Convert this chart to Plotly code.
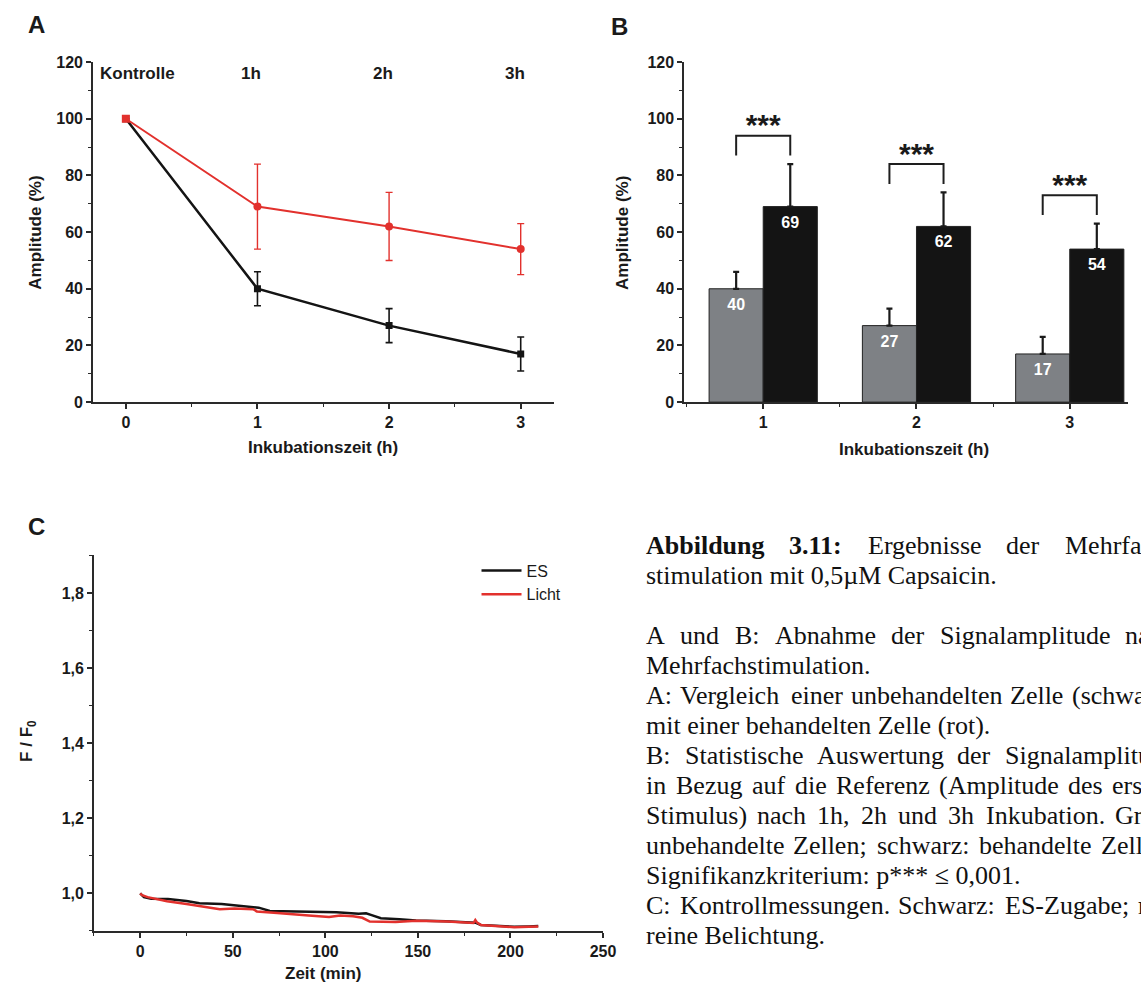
import plotly.graph_objects as go

W, H = 1141, 994

# ---------------- data ----------------
# Panel A: amplitude over incubation time
a_x = [0, 1, 2, 3]
a_untreated = [100, 40, 27, 17]
a_untreated_err = [0, 6, 6, 6]
a_treated = [100, 69, 62, 54]
a_treated_err = [0, 15, 12, 9]
a_top_labels = ["Kontrolle", "1h", "2h", "3h"]

# Panel B: statistics
b_x = [1, 2, 3]
b_untreated = [40, 27, 17]
b_untreated_err = [6, 6, 6]
b_treated = [69, 62, 54]
b_treated_err = [15, 12, 9]
b_sig = ["***", "***", "***"]

# Panel C: control measurements (F/F0 over time)
c_es_t = [0, 2, 6, 15, 25, 32, 44, 55, 61, 64, 70, 85, 96, 106, 118, 122, 125,
          130, 140, 149, 165, 181, 184, 192, 202, 210, 215]
c_es_v = [1.0, 0.99, 0.986, 0.985, 0.98, 0.974, 0.972, 0.966, 0.963, 0.962, 0.953,
          0.952, 0.950, 0.950, 0.946, 0.947, 0.942, 0.934, 0.931, 0.928, 0.926,
          0.922, 0.916, 0.913, 0.911, 0.912, 0.913]
c_licht_t = [0, 1, 4, 10, 14.5, 25, 32, 43, 51, 61, 63, 65, 74, 91, 102, 108, 115,
             120, 124, 138, 149, 166, 180, 181, 182, 184, 202, 210, 215]
c_licht_v = [1.0, 0.995, 0.99, 0.983, 0.979, 0.972, 0.967, 0.958, 0.960, 0.958,
             0.952, 0.951, 0.948, 0.941, 0.937, 0.941, 0.939, 0.935, 0.925, 0.924,
             0.927, 0.925, 0.921, 0.929, 0.922, 0.916, 0.910, 0.911, 0.912]

# caption lines: (text, justified, number of leading bold words)
caption = [
    ("Abbildung 3.11: Ergebnisse der Mehrfach-", True, 2),
    ("stimulation mit 0,5µM Capsaicin.", False, 0),
    ("", False, 0),
    ("A und B: Abnahme der Signalamplitude nach", True, 0),
    ("Mehrfachstimulation.", False, 0),
    ("A: Vergleich einer unbehandelten Zelle (schwarz)", True, 0),
    ("mit einer behandelten Zelle (rot).", False, 0),
    ("B: Statistische Auswertung der Signalamplitude", True, 0),
    ("in Bezug auf die Referenz (Amplitude des ersten", True, 0),
    ("Stimulus) nach 1h, 2h und 3h Inkubation. Grau:", True, 0),
    ("unbehandelte Zellen; schwarz: behandelte Zellen.", True, 0),
    ("Signifikanzkriterium: p*** ≤ 0,001.", False, 0),
    ("C: Kontrollmessungen. Schwarz: ES-Zugabe; rot:", True, 0),
    ("reine Belichtung.", False, 0),
]

# ---------------- helpers ----------------
def px(x):
    return x / W

def py(y):
    return 1 - y / H

RED = "#e2312d"
BLK = "#141414"
AX = "#2a2a2a"
TXT = "#1a1a1a"
SANS = "Liberation Sans"
SERIF = "Liberation Serif"

# Times metrics (units per 1000 em) used for justified caption lines
TR = {' ': 250, '(': 333, ')': 333, '*': 500, ',': 250, '-': 333, '.': 250, ':': 278,
      ';': 278, '0': 500, '1': 500, '2': 500, '3': 500, '5': 500, 'µ': 500, '≤': 549,
      'A': 722, 'B': 667, 'C': 667, 'E': 611, 'G': 722, 'I': 333, 'K': 722, 'M': 889,
      'R': 667, 'S': 556, 'V': 722, 'Z': 611,
      'a': 444, 'b': 500, 'c': 444, 'd': 500, 'e': 444, 'f': 333, 'g': 500, 'h': 500,
      'i': 278, 'k': 500, 'l': 278, 'm': 778, 'n': 500, 'o': 500, 'p': 500, 'r': 333,
      's': 389, 't': 278, 'u': 500, 'w': 722, 'z': 444}
TB = dict(TR)
TB.update({'b': 556, 'd': 556, 'n': 556, 'u': 556, ':': 333})

CAP_SIZE = 26
CAP_LEFT = 652
CAP_RIGHT = 1186
CAP_TOP = 547
CAP_STEP = 30.5

def tw(s, bold=False):
    t = TB if bold else TR
    return sum(t.get(ch, 500) for ch in s) * CAP_SIZE / 1000.0

fig = go.Figure()

# ---------------- Panel A ----------------
fig.add_trace(go.Scatter(
    x=a_x, y=a_untreated, mode="lines+markers", xaxis="x", yaxis="y",
    line=dict(color=BLK, width=2.5),
    marker=dict(symbol="square", size=7, color=BLK),
    error_y=dict(type="data", array=a_untreated_err, color=BLK, thickness=1.6, width=3.5),
    showlegend=False, hoverinfo="skip"))
fig.add_trace(go.Scatter(
    x=a_x, y=a_treated, mode="lines+markers", xaxis="x", yaxis="y",
    line=dict(color=RED, width=2),
    marker=dict(symbol=["square", "circle", "circle", "circle"], size=8, color=RED),
    error_y=dict(type="data", array=a_treated_err, color=RED, thickness=1.4, width=3.5),
    showlegend=False, hoverinfo="skip"))

# ---------------- Panel B ----------------
bw = 0.353
fig.add_trace(go.Bar(
    x=[v - bw / 2 for v in b_x], y=b_untreated, width=bw, xaxis="x2", yaxis="y2",
    marker=dict(color="#7e8185", line=dict(color="#222222", width=1)),
    error_y=dict(type="data", symmetric=False, array=b_untreated_err,
                 arrayminus=[0] * len(b_x), color=TXT, thickness=2.2, width=3),
    showlegend=False, hoverinfo="skip"))
fig.add_trace(go.Bar(
    x=[v + bw / 2 for v in b_x], y=b_treated, width=bw, xaxis="x2", yaxis="y2",
    marker=dict(color=BLK, line=dict(color="#222222", width=1)),
    error_y=dict(type="data", symmetric=False, array=b_treated_err,
                 arrayminus=[0] * len(b_x), color=TXT, thickness=2.2, width=3),
    showlegend=False, hoverinfo="skip"))
# value labels inside bars
fig.add_trace(go.Scatter(
    x=[v - bw / 2 for v in b_x], y=[v - 6 for v in b_untreated],
    text=[str(v) for v in b_untreated], mode="text", xaxis="x2", yaxis="y2",
    textfont=dict(family=SANS, size=16, color="white", weight="bold"),
    showlegend=False, hoverinfo="skip"))
fig.add_trace(go.Scatter(
    x=[v + bw / 2 for v in b_x], y=[v - 6 for v in b_treated],
    text=[str(v) for v in b_treated], mode="text", xaxis="x2", yaxis="y2",
    textfont=dict(family=SANS, size=16, color="white", weight="bold"),
    showlegend=False, hoverinfo="skip"))
# significance brackets
for xi, v, e, s in zip(b_x, b_treated, b_treated_err, b_sig):
    top = v + e + 10
    fig.add_trace(go.Scatter(
        x=[xi - bw / 2, xi - bw / 2, xi + bw / 2, xi + bw / 2],
        y=[top - 7, top, top, top - 7], mode="lines", xaxis="x2", yaxis="y2",
        line=dict(color="#1e1e1e", width=2), showlegend=False, hoverinfo="skip"))
    fig.add_trace(go.Scatter(
        x=[xi], y=[top + 2.8], text=[s], mode="text", xaxis="x2", yaxis="y2",
        textfont=dict(family=SANS, size=30, color=TXT, weight="bold"),
        showlegend=False, hoverinfo="skip"))

# ---------------- Panel C ----------------
fig.add_trace(go.Scatter(
    x=c_es_t, y=c_es_v, mode="lines", name="ES", xaxis="x3", yaxis="y3",
    line=dict(color=BLK, width=2.5), hoverinfo="skip"))
fig.add_trace(go.Scatter(
    x=c_licht_t, y=c_licht_v, mode="lines", name="Licht", xaxis="x3", yaxis="y3",
    line=dict(color=RED, width=2.5), hoverinfo="skip"))

# ---------------- axes ----------------
def axis(domain, rng, dtick, minor_dtick, **kw):
    d = dict(domain=domain, range=rng, dtick=dtick, tick0=0, showline=True,
             linecolor=AX, linewidth=1.5, ticks="outside", ticklen=5, tickwidth=1.5,
             tickcolor=AX, showgrid=False, zeroline=False, fixedrange=True,
             tickfont=dict(family=SANS, size=16, color=TXT, weight="bold"),
             minor=dict(ticks="outside", ticklen=3, tickwidth=1.2, tickcolor=AX,
                        dtick=minor_dtick, showgrid=False))
    d.update(kw)
    return d

yAB = [py(401), py(55)]
fig.update_layout(
    xaxis=axis([px(94), px(560)], [-0.25, 3.25], 1, 0.5, anchor="y"),
    yaxis=axis(yAB, [0, 120], 20, 10, anchor="x"),
    xaxis2=axis([px(692), 1.0], [0.484, 3.38], 1, 0.5, anchor="y2"),
    yaxis2=axis(yAB, [0, 120], 20, 10, anchor="x2"),
    xaxis3=axis([px(95), px(610)], [-25, 250], 50, 25, anchor="y3"),
    yaxis3=axis([py(939), py(557)], [0.9, 1.9], 0.2, 0.1, anchor="x3",
                tick0=1.0, tickformat=".1f"),
)

# ---------------- annotations ----------------
ann = []

def label(text, x, y, size=17, angle=0, family=SANS, weight="bold"):
    ann.append(dict(text=text, x=px(x), y=py(y), xref="paper", yref="paper",
                    xanchor="center", yanchor="middle", showarrow=False,
                    textangle=angle,
                    font=dict(family=family, size=size, color=TXT, weight=weight)))

label("A", 37, 17, size=24)
label("B", 627, 19, size=24)
label("C", 37, 528, size=24)
label("Amplitude (%)", 35, 229, angle=-90)
label("Inkubationszeit (h)", 327, 447)
label("Amplitude (%)", 629, 229, angle=-90)
label("Inkubationszeit (h)", 925, 449)
label("F / F<sub>0</sub>", 29, 746, angle=-90)
label("Zeit (min)", 327, 982)

for i, (xv, t) in enumerate(zip(a_x, a_top_labels)):
    d = dict(text=t, x=xv, xref="x", y=py(67), yref="paper", yanchor="middle",
             showarrow=False, font=dict(family=SANS, size=17, color=TXT, weight="bold"))
    if i == 0:
        d.update(x=xv - 0.21, xanchor="left")
    else:
        d.update(xanchor="center", xshift=-6)
    ann.append(d)

# caption text
for i, (line, just, nbold) in enumerate(caption):
    if not line:
        continue
    yy = py(CAP_TOP + i * CAP_STEP)
    words = line.split(" ")
    if just:
        widths = [tw(w, j < nbold) for j, w in enumerate(words)]
        gap = (CAP_RIGHT - CAP_LEFT - sum(widths)) / (len(words) - 1)
        xcur = CAP_LEFT
        for j, w in enumerate(words):
            ann.append(dict(text=w, x=px(xcur), y=yy, xref="paper", yref="paper",
                            xanchor="left", yanchor="middle", showarrow=False,
                            borderpad=0,
                            font=dict(family=SERIF, size=CAP_SIZE, color="#111111",
                                      weight="bold" if j < nbold else "normal")))
            xcur += widths[j] + gap
    else:
        ann.append(dict(text=line, x=px(CAP_LEFT), y=yy, xref="paper", yref="paper",
                        xanchor="left", yanchor="middle", showarrow=False, borderpad=0,
                        font=dict(family=SERIF, size=CAP_SIZE, color="#111111")))

fig.update_layout(
    width=W, height=H, margin=dict(l=0, r=0, t=0, b=0),
    paper_bgcolor="white", plot_bgcolor="white",
    barmode="overlay", separators=",.",
    annotations=ann,
    showlegend=True,
    legend=dict(x=px(482), y=py(555), xanchor="left", yanchor="top",
                bgcolor="rgba(0,0,0,0)", tracegroupgap=0, itemwidth=40,
                font=dict(family=SANS, size=16, color=TXT)),
)

fig.write_html("out.html")
